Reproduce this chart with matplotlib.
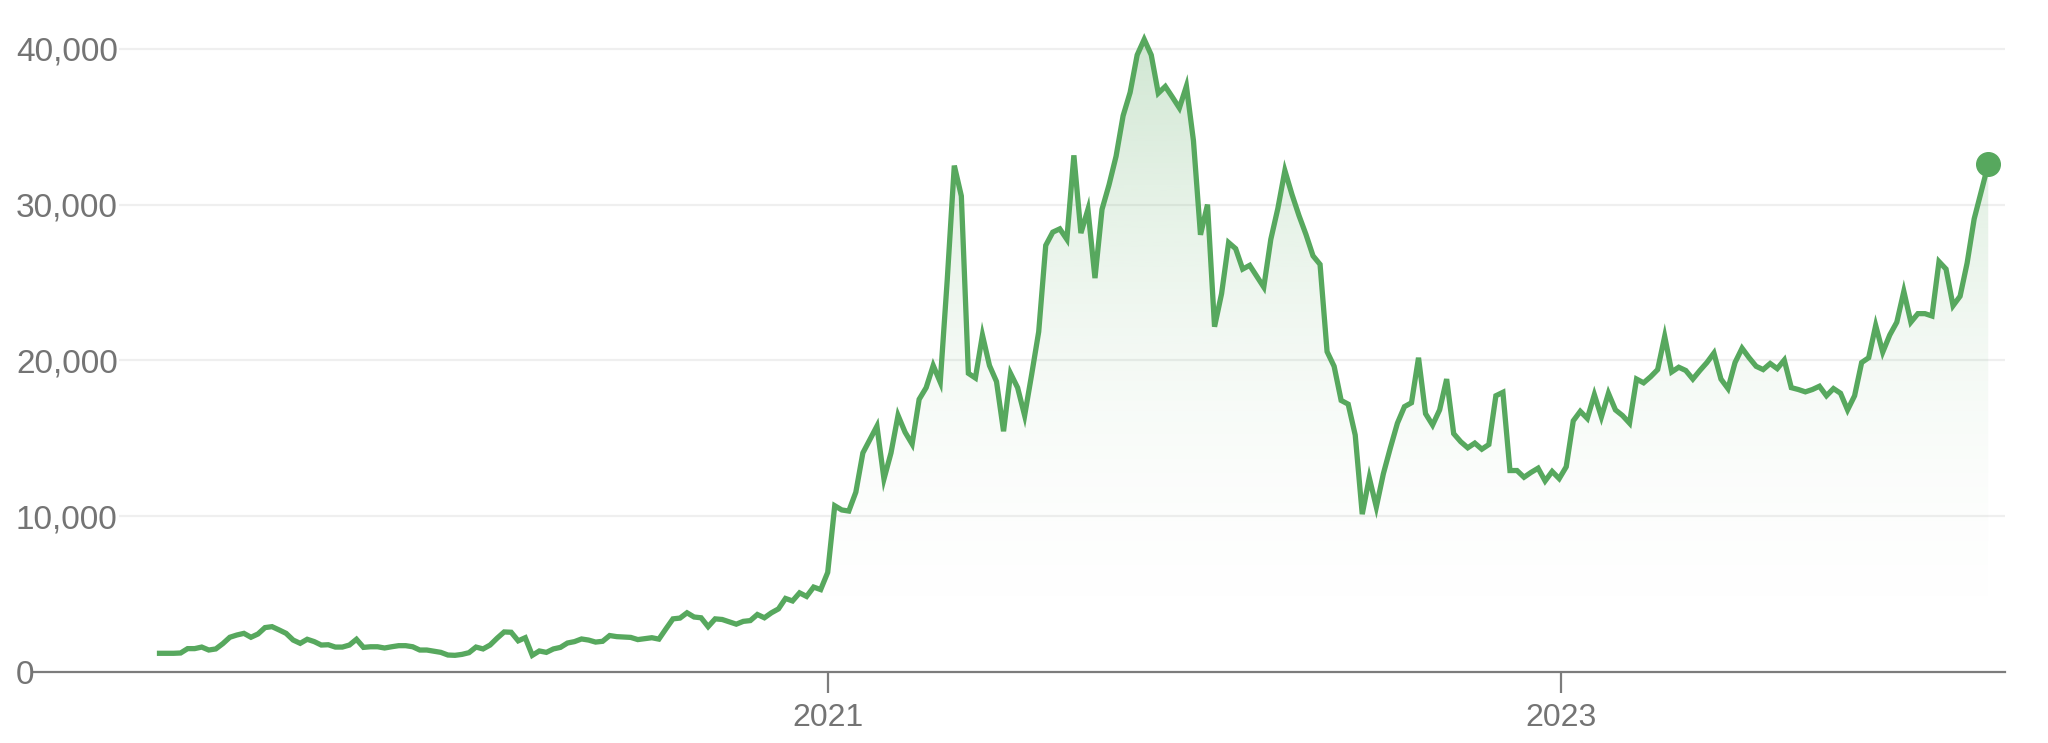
import numpy as np
import pandas as pd
import matplotlib
matplotlib.use("Agg")
import matplotlib.pyplot as plt
import matplotlib.dates as mdates
import matplotlib.transforms as mtransforms

plt.rcParams['font.family'] = ['Liberation Sans', 'DejaVu Sans']

# weekly series (week offset from start_date -> value)
start_date = "2019-03-08"
weeks = [0, 2, 3, 4, 5, 6, 7, 8, 9, 10, 11, 12, 13, 14, 15, 16, 17, 18, 19, 20,
         21, 22, 23, 24, 25, 26, 27, 28, 29, 30, 31, 32, 33, 34, 35, 36, 37, 38, 40, 41,
         42, 43, 44, 45, 46, 47, 48, 49, 50, 51, 52, 53, 54, 55, 56, 57, 58, 59, 60, 61,
         62, 63, 64, 65, 67, 68, 70, 71, 72, 73, 74, 75, 76, 77, 78, 79, 80, 82, 83, 84,
         85, 86, 87, 88, 89, 90, 91, 92, 93, 94, 95, 96, 97, 98, 99, 100, 102, 103, 104, 105,
         106, 107, 108, 109, 110, 111, 112, 113, 114, 115, 116, 117, 118, 119, 120, 121, 122, 123, 124, 125,
         126, 127, 128, 129, 130, 131, 132, 133, 134, 135, 136, 137, 138, 139, 140, 141, 142, 143, 144, 145,
         146, 147, 148, 149, 150, 151, 152, 153, 154, 155, 157, 158, 159, 160, 161, 162, 163, 164, 165, 166,
         167, 168, 169, 170, 171, 172, 173, 174, 175, 176, 177, 178, 179, 180, 181, 182, 183, 184, 185, 186,
         187, 188, 189, 190, 191, 192, 193, 194, 195, 196, 197, 198, 199, 200, 201, 202, 203, 204, 205, 206,
         207, 208, 209, 210, 211, 212, 213, 214, 215, 216, 217, 218, 219, 220, 221, 222, 223, 224, 225, 226,
         227, 228, 229, 230, 231, 232, 233, 234, 235, 236, 237, 238, 239, 240, 241, 242, 243, 244, 245, 246,
         247, 248, 249, 250, 251, 252, 253, 254, 255, 256, 257, 258, 260]
values = [1200, 1200, 1220, 1500, 1500, 1600, 1410, 1480, 1820, 2230, 2375, 2480, 2230, 2440, 2850, 2910, 2700, 2480, 2050, 1840,
          2100, 1950, 1730, 1750, 1600, 1600, 1730, 2100, 1580, 1620, 1620, 1540, 1620, 1690, 1690, 1620, 1410, 1410, 1260, 1090,
          1070, 1130, 1240, 1600, 1480, 1730, 2170, 2570, 2550, 2000, 2200, 1070, 1350, 1260, 1480, 1580, 1860, 1950, 2120, 2050,
          1920, 1970, 2340, 2270, 2220, 2080, 2200, 2110, 2770, 3410, 3460, 3800, 3530, 3480, 2910, 3410, 3370, 3070, 3250, 3300,
          3690, 3480, 3800, 4050, 4720, 4560, 5080, 4850, 5450, 5290, 6390, 10670, 10400, 10330, 11540, 14060, 15780, 12390, 14060, 16470,
          15390, 14630, 17500, 18250, 19670, 18600, 25200, 32500, 30550, 19170, 18870, 21620, 19670, 18640, 15450, 19160, 18250, 16460, 19100, 21840,
          27380, 28230, 28440, 27770, 33160, 28170, 29690, 25280, 29690, 31270, 33100, 35700, 37200, 39600, 40600, 39600, 37150, 37580, 36900, 36200,
          37600, 34100, 28060, 30000, 22160, 24280, 27560, 27170, 25860, 26100, 24700, 27770, 29750, 32180, 30660, 29300, 28080, 26710, 26160, 20560,
          19620, 17430, 17190, 15210, 10130, 12470, 10590, 12720, 14390, 15970, 17030, 17280, 20170, 16580, 15850, 16820, 18800, 15300, 14780, 14390,
          14690, 14300, 14600, 17730, 17950, 12930, 12930, 12500, 12810, 13080, 12260, 12870, 12410, 13170, 16120, 16730, 16270, 17800, 16370, 17890,
          16820, 16460, 15970, 18800, 18560, 18950, 19410, 21540, 19260, 19560, 19350, 18800, 19350, 19860, 20470, 18800, 18190, 19860, 20780, 20170,
          19620, 19410, 19800, 19470, 20020, 18250, 18130, 17980, 18130, 18340, 17730, 18190, 17890, 16820, 17730, 19860, 20170, 22240, 20530, 21630,
          22450, 24430, 22450, 23000, 23000, 22850, 26340, 25860, 23510, 24120, 26250, 29080, 32580]

y_ticks = [0, 10000, 20000, 30000, 40000]
y_labels = ["0", "10,000", "20,000", "30,000", "40,000"]
x_ticks = ["2021-01-01", "2023-01-01"]
x_labels = ["2021", "2023"]

green = "#57a85e"
grey = "#747474"

dates = pd.Timestamp(start_date) + pd.to_timedelta(np.array(weeks) * 7, unit="D")
dnum = mdates.date2num(dates)

W, H = 2048, 743
fig = plt.figure(figsize=(W / 100, H / 100), dpi=100)
ax = fig.add_axes([119 / W, 71 / H, (2005 - 119) / W, (725.4 - 71) / H])

# gradient fill under the line
poly = ax.fill_between(dnum, values, 0, facecolor="none", edgecolor="none")
lev = np.linspace(0, 42000, 300)
rgba = np.zeros((300, 1, 4))
rgba[..., :3] = matplotlib.colors.to_rgb(green)
rgba[:, 0, 3] = 0.27 * (lev / 40000) ** 2
im = ax.imshow(rgba, extent=[dnum[0], dnum[-1], 0, 42000], origin="lower",
               aspect="auto", interpolation="bilinear", zorder=1)
im.set_clip_path(poly.get_paths()[0], ax.transData)

ax.plot(dnum, values, color=green, lw=3.8, solid_joinstyle="miter", zorder=3)
ax.plot(dnum[-1], values[-1], "o", ms=17, color=green, zorder=4, clip_on=False)

t0 = mdates.date2num(pd.Timestamp("2021-01-01"))
px_day = 367 / 365.25
ax.set_xlim(t0 - (827.7 - 119) / px_day, t0 + (2005 - 827.7) / px_day)
ax.set_ylim(0, 42000)

for s in ax.spines.values():
    s.set_visible(False)

ax.set_yticks(y_ticks[1:])
ax.tick_params(axis="y", length=0, labelleft=False)
ax.grid(axis="y", color="#efefef", lw=1.6)
ax.set_axisbelow(True)

ax.axhline(0, xmin=(34 - 119) / (2005 - 119), xmax=1, color="#7c7c7c", lw=1.6,
           clip_on=False, zorder=2)

ax.set_xticks(mdates.date2num(pd.to_datetime(x_ticks)))
ax.set_xticklabels(x_labels)
ax.tick_params(axis="x", length=15, width=1.6, color="#7c7c7c", labelcolor=grey,
               labelsize=23, pad=7)

trans = mtransforms.blended_transform_factory(fig.transFigure, ax.transData)
for v, lab in zip(y_ticks, y_labels):
    ax.text(16 / W, v, lab, transform=trans, ha="left", va="center_baseline",
            fontsize=24, color=grey, clip_on=False)

fig.savefig("out.png", dpi=100)
